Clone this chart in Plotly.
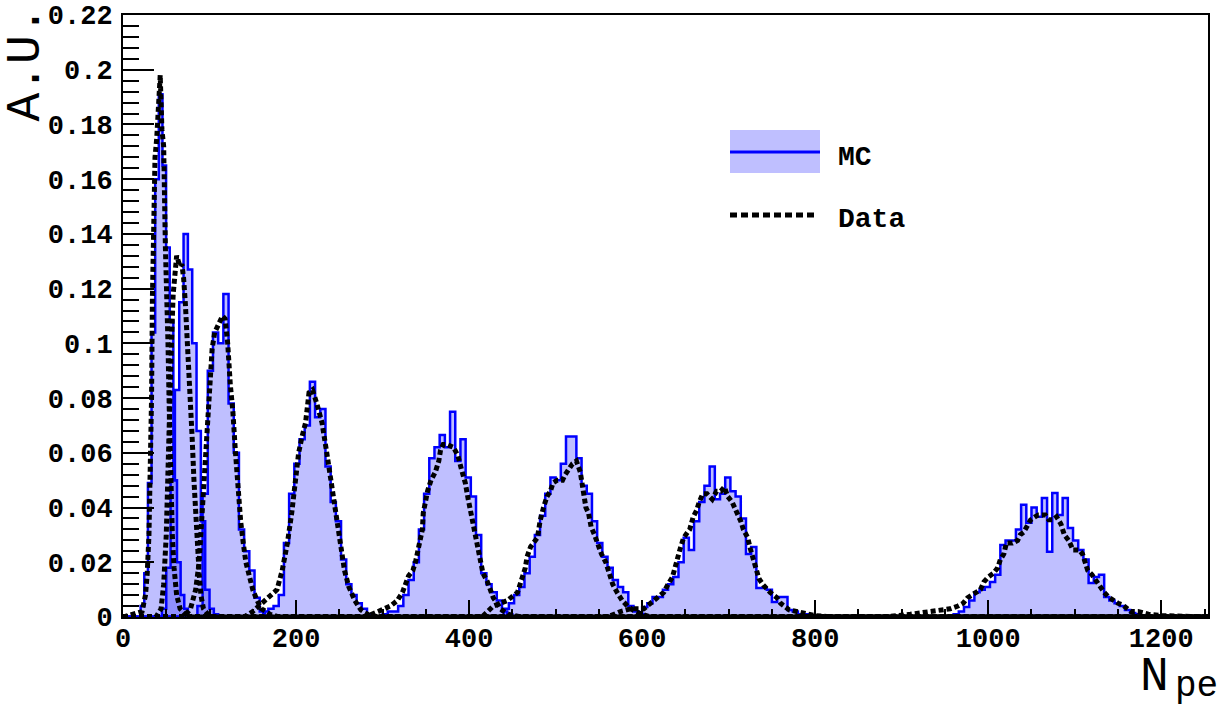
import numpy as np
import plotly.graph_objects as go

# ---------------- axis ranges / tick labels ----------------
X_MAX = 1254
Y_MAX = 0.22
x_tick_vals = [0, 200, 400, 600, 800, 1000, 1200]
x_tick_text = ["0", "200", "400", "600", "800", "1000", "1200"]
y_tick_vals = [0, 0.02, 0.04, 0.06, 0.08, 0.1, 0.12, 0.14, 0.16, 0.18, 0.2, 0.22]
y_tick_text = ["0", "0.02", "0.04", "0.06", "0.08", "0.1", "0.12", "0.14", "0.16", "0.18", "0.2", "0.22"]

# ---------------- MC histograms (first low edge, bin width, contents) ----------------
mc1_start, mc1_width = 20.4, 4.2
mc1_values = [0.004, 0.016, 0.049, 0.104, 0.160, 0.191, 0.165, 0.135, 0.108, 0.050, 0.020, 0.008, 0.003]

mc2_start, mc2_width = 45, 5
mc2_values = [0.003, 0.018, 0.050, 0.083, 0.115, 0.140, 0.127, 0.100, 0.068, 0.035, 0.010, 0.003, 0.001]

mc3_start, mc3_width = 86, 6
mc3_values = [0.004, 0.045, 0.090, 0.104, 0.100, 0.118, 0.078, 0.060, 0.032, 0.024, 0.017, 0.007, 0.002]

mc4_start, mc4_width = 162, 6
mc4_values = [0.002, 0.003, 0.004, 0.008, 0.027, 0.045, 0.056, 0.065, 0.070, 0.086, 0.073, 0.076,
              0.055, 0.042, 0.035, 0.021, 0.012, 0.008, 0.005, 0.003, 0.001]

mc5_start, mc5_width = 300, 6
mc5_values = [0.001, 0.002, 0.002, 0.004, 0.008, 0.0135, 0.020, 0.032, 0.045, 0.058, 0.062, 0.0665,
              0.062, 0.075, 0.057, 0.065, 0.051, 0.044, 0.030, 0.016, 0.012, 0.009, 0.006, 0.002, 0.001]

mc6_start, mc6_width = 440, 6
mc6_values = [0.003, 0.005, 0.008, 0.011, 0.016, 0.022, 0.030, 0.037, 0.045, 0.051, 0.050, 0.056,
              0.066, 0.066, 0.058, 0.048, 0.045, 0.035, 0.027, 0.022, 0.018, 0.0135, 0.011, 0.009,
              0.004, 0.002, 0.001]

mc7_start, mc7_width = 600, 6
mc7_values = [0.0037, 0.005, 0.0073, 0.0073, 0.010, 0.012, 0.0146, 0.020, 0.029, 0.0245, 0.035, 0.042,
              0.048, 0.055, 0.043, 0.045, 0.051, 0.046, 0.044, 0.036, 0.023, 0.0256, 0.0106, 0.0106,
              0.010, 0.0055, 0.0073, 0.0073, 0.0026, 0.002, 0.001, 0.001]

mc8_start, mc8_width = 960, 6
mc8_values = [0.001, 0.002, 0.0037, 0.006, 0.009, 0.010, 0.011, 0.0128, 0.0154, 0.0263, 0.028, 0.028,
              0.032, 0.041, 0.0344, 0.040, 0.0366, 0.0435, 0.0238, 0.0453, 0.0373, 0.0435, 0.0325,
              0.028, 0.0245, 0.021, 0.0124, 0.0146, 0.0154, 0.0073, 0.006, 0.005, 0.004, 0.0026,
              0.0015, 0.001, 0.0005]

# ---------------- Data curves ----------------
data1_x = [22, 26, 28, 30, 31.5, 33, 34, 35.5, 37, 39, 41, 43, 45, 47, 49, 50.5, 52, 53.5, 55, 57, 59, 62, 66, 72, 80]
data1_y = [0.002, 0.008, 0.016, 0.03, 0.05, 0.08, 0.117, 0.15, 0.168, 0.175, 0.185, 0.198, 0.178, 0.172,
           0.135, 0.12, 0.1, 0.075, 0.05, 0.03, 0.018, 0.008, 0.003, 0.001, 0]

data2_x = [38, 44, 47, 50, 52, 54, 56, 58, 60, 62, 64, 66, 68, 70, 72, 74, 76, 78, 80, 82, 84, 86, 88, 90, 93, 98, 105]
data2_y = [0, 0.003, 0.012, 0.03, 0.06, 0.085, 0.1, 0.118, 0.128, 0.132, 0.13, 0.128, 0.129, 0.124, 0.115,
           0.104, 0.093, 0.08, 0.065, 0.05, 0.037, 0.026, 0.016, 0.008, 0.003, 0.001, 0]

data3_x = [70, 78, 84, 88, 91, 94, 97, 100, 103, 106, 109, 112, 115, 118, 121, 124, 127, 130, 133, 136, 139,
           142, 146, 150, 155, 160, 170, 180]
data3_y = [0, 0.003, 0.01, 0.02, 0.035, 0.05, 0.065, 0.085, 0.098, 0.104, 0.106, 0.108, 0.11, 0.109, 0.1,
           0.085, 0.075, 0.06, 0.045, 0.035, 0.027, 0.02, 0.015, 0.01, 0.006, 0.003, 0.001, 0]

data4_x = [140, 150, 160, 170, 178, 184, 190, 195, 199, 203, 207, 211, 215, 219, 224, 230, 236, 240, 245,
           249, 253, 256, 261, 268, 275, 285, 300]
data4_y = [0, 0.002, 0.005, 0.008, 0.01, 0.017, 0.027, 0.038, 0.048, 0.06, 0.066, 0.071, 0.082, 0.083,
           0.078, 0.071, 0.059, 0.05, 0.039, 0.032, 0.024, 0.017, 0.011, 0.006, 0.0026, 0.0005, 0]

data5_x = [280, 295, 309, 317, 323, 330, 335, 338, 340, 344, 346, 347, 350, 352, 356, 361, 365, 367, 370,
           375, 382, 387, 392, 395.6, 399, 401, 405, 408, 411, 413, 416, 421, 424.6, 428, 432.6, 436, 445, 460]
data5_y = [0, 0.002, 0.004, 0.006, 0.009, 0.015, 0.017, 0.02, 0.023, 0.027, 0.032, 0.038, 0.044, 0.046,
           0.05, 0.053, 0.057, 0.061, 0.063, 0.063, 0.062, 0.059, 0.053, 0.049, 0.043, 0.04, 0.033, 0.029,
           0.023, 0.02, 0.016, 0.013, 0.01, 0.007, 0.005, 0.003, 0.001, 0]

data6_x = [415, 428, 444, 448, 456, 462, 465, 467, 471, 479, 482, 486, 490, 494, 497, 502, 508, 511, 515,
           519.5, 524, 528.5, 532, 535, 538, 541, 545, 549, 553, 558, 561, 566, 571, 577, 583, 592, 600, 610]
data6_y = [0, 0.004, 0.006, 0.007, 0.009, 0.015, 0.018, 0.022, 0.0256, 0.029, 0.035, 0.04, 0.044, 0.046,
           0.049, 0.05, 0.05, 0.052, 0.054, 0.056, 0.057, 0.053, 0.046, 0.04, 0.038, 0.033, 0.03, 0.026,
           0.023, 0.02, 0.017, 0.012, 0.009, 0.006, 0.004, 0.002, 0.001, 0]

data7_x = [560, 575, 587, 602, 609, 618, 625, 630, 635, 638, 641, 644, 648, 655, 659, 663, 666, 670, 675,
           681, 686, 691, 695, 699, 704, 710, 714, 717, 722, 725, 728, 731, 735, 740, 748, 756, 760, 770,
           783, 800, 820]
data7_y = [0, 0.002, 0.003, 0.003, 0.005, 0.007, 0.009, 0.012, 0.0146, 0.018, 0.022, 0.025, 0.029, 0.032,
           0.0366, 0.039, 0.042, 0.045, 0.045, 0.043, 0.046, 0.046, 0.0475, 0.044, 0.042, 0.038, 0.035,
           0.032, 0.029, 0.025, 0.022, 0.018, 0.014, 0.0117, 0.009, 0.007, 0.005, 0.0026, 0.0015, 0.0005, 0]

data8_x = [880, 910, 933, 956, 965, 971, 976, 982, 991, 995, 1000, 1006, 1011, 1014, 1018, 1021, 1028, 1034,
           1037, 1041, 1045, 1049, 1054, 1058, 1066, 1070, 1075, 1079, 1084, 1088, 1093, 1098, 1105, 1109,
           1112, 1115, 1120, 1126, 1130, 1134, 1139, 1144, 1150, 1155, 1161, 1165, 1173, 1185, 1200, 1250]
data8_y = [0, 0.001, 0.002, 0.003, 0.004, 0.005, 0.007, 0.008, 0.01, 0.0128, 0.0146, 0.016, 0.018, 0.021,
           0.023, 0.027, 0.027, 0.028, 0.03, 0.031, 0.033, 0.0355, 0.0366, 0.0373, 0.0373, 0.0355, 0.0355,
           0.0366, 0.034, 0.03, 0.028, 0.0245, 0.0245, 0.023, 0.02, 0.017, 0.0154, 0.0124, 0.011, 0.009,
           0.0073, 0.006, 0.005, 0.0045, 0.003, 0.002, 0.002, 0.001, 0.0005, 0]

mc_hists = [
    (mc1_start, mc1_width, mc1_values), (mc2_start, mc2_width, mc2_values),
    (mc3_start, mc3_width, mc3_values), (mc4_start, mc4_width, mc4_values),
    (mc5_start, mc5_width, mc5_values), (mc6_start, mc6_width, mc6_values),
    (mc7_start, mc7_width, mc7_values), (mc8_start, mc8_width, mc8_values),
]
data_curves = [
    (data1_x, data1_y), (data2_x, data2_y), (data3_x, data3_y), (data4_x, data4_y),
    (data5_x, data5_y), (data6_x, data6_y), (data7_x, data7_y), (data8_x, data8_y),
]

MC_LINE = "#0000ff"
MC_FILL = "rgba(0,0,255,0.25)"
FONT = "Liberation Mono"

fig = go.Figure()

for start, width, vals in mc_hists:
    edges = start + width * np.arange(len(vals) + 1)
    xs = np.concatenate([[0], edges, [X_MAX]])
    ys = np.concatenate([[0], vals, [0, 0]])
    fig.add_trace(go.Scatter(
        x=xs, y=ys, mode="lines", line=dict(color=MC_LINE, width=2.5, shape="hv"),
        fill="tozeroy", fillcolor=MC_FILL, showlegend=False, hoverinfo="skip"))

for dx, dy in data_curves:
    xs = np.concatenate([[0], dx, [X_MAX]])
    ys = np.concatenate([[0], dy, [0]])
    fig.add_trace(go.Scatter(
        x=xs, y=ys, mode="lines", line=dict(color="black", width=5, dash="5px,3px"),
        showlegend=False, hoverinfo="skip"))

# ---------------- layout ----------------
W, H = 1226, 712
L, R, T, B = 123, 18, 15, 95
PW, PH = W - L - R, H - T - B


def px(x):
    return (x - L) / PW


def py(y):
    return (H - B - y) / PH


tick_font = dict(family=FONT, size=27, color="black", weight="bold")

fig.update_layout(
    width=W, height=H,
    margin=dict(l=L, r=R, t=T, b=B, pad=0),
    paper_bgcolor="white", plot_bgcolor="white",
    xaxis=dict(
        range=[0, X_MAX], showgrid=False, zeroline=False, automargin=False,
        showline=True, linecolor="black", linewidth=2, mirror=True,
        ticks="inside", ticklen=17, tickwidth=2, tickcolor="black",
        tickmode="array", tickvals=x_tick_vals, ticktext=x_tick_text,
        tickfont=tick_font, ticklabelstandoff=-4,
        minor=dict(ticks="inside", ticklen=8, tickwidth=1.5, tickcolor="black",
                   tickmode="linear", tick0=0, dtick=50),
    ),
    yaxis=dict(
        range=[0, Y_MAX], showgrid=False, zeroline=False, automargin=False,
        showline=True, linecolor="black", linewidth=2, mirror=True,
        ticks="inside", ticklen=31, tickwidth=2, tickcolor="black",
        tickmode="array", tickvals=y_tick_vals, ticktext=y_tick_text,
        tickfont=tick_font, ticklabelstandoff=3,
        minor=dict(ticks="inside", ticklen=16, tickwidth=1.5, tickcolor="black",
                   tickmode="linear", tick0=0, dtick=0.004),
    ),
)

# legend drawn by hand (ROOT TLegend style)
fig.add_shape(type="rect", xref="paper", yref="paper",
              x0=px(730), x1=px(820), y0=py(173), y1=py(130),
              fillcolor=MC_FILL, line=dict(width=0), layer="above")
fig.add_shape(type="line", xref="paper", yref="paper",
              x0=px(730), x1=px(820), y0=py(152), y1=py(152),
              line=dict(color=MC_LINE, width=3), layer="above")
fig.add_shape(type="line", xref="paper", yref="paper",
              x0=px(730), x1=px(816), y0=py(215), y1=py(215),
              line=dict(color="black", width=5, dash="7px,4px"), layer="above")

fig.add_annotation(text="MC", xref="paper", yref="paper", x=px(836), y=py(157),
                   xanchor="left", yanchor="middle", showarrow=False,
                   font=dict(family=FONT, size=28, color="black", weight="bold"))
fig.add_annotation(text="Data", xref="paper", yref="paper", x=px(836), y=py(220),
                   xanchor="left", yanchor="middle", showarrow=False,
                   font=dict(family=FONT, size=28, color="black", weight="bold"))

# axis titles
fig.add_annotation(text="A.U.", xref="paper", yref="paper", x=px(25), y=py(5),
                   xanchor="center", yanchor="top", textangle=-90, showarrow=False,
                   font=dict(family=FONT, size=48, color="black"))
fig.add_annotation(text="N", xref="paper", yref="paper", x=px(1171), y=py(677),
                   xanchor="right", yanchor="middle", showarrow=False,
                   font=dict(family=FONT, size=48, color="black"))
fig.add_annotation(text="pe", xref="paper", yref="paper", x=px(1173), y=py(686),
                   xanchor="left", yanchor="middle", showarrow=False,
                   font=dict(family=FONT, size=36, color="black"))

fig.write_html("out.html")
